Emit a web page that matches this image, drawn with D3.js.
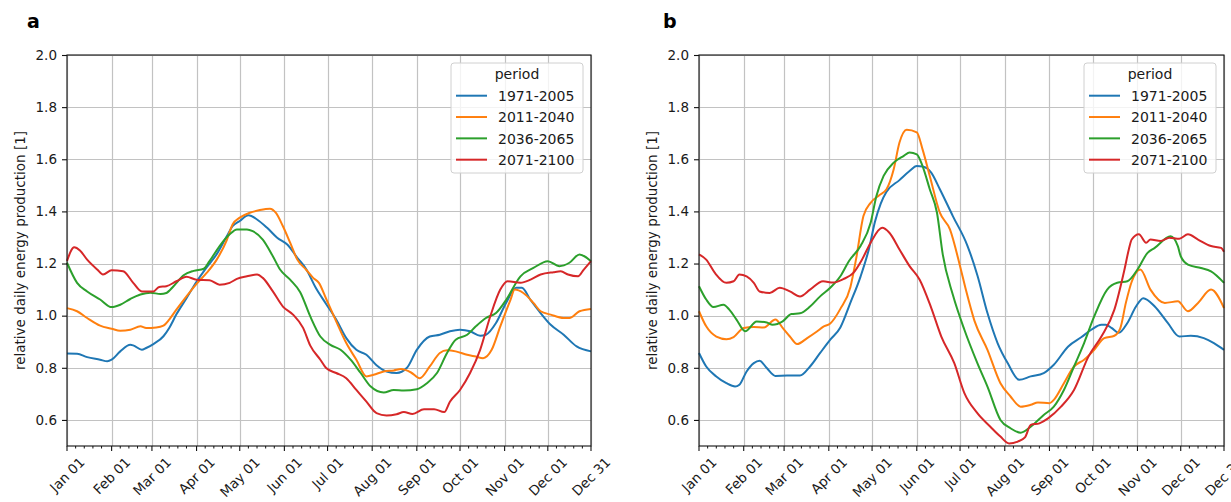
<!DOCTYPE html>
<html><head><meta charset="utf-8">
<script src="https://cdn.jsdelivr.net/npm/d3@7"></script>
<style>
body{margin:0;background:#fff;}
svg{display:block;font-family:"DejaVu Sans",sans-serif;}
</style>
</head><body>
<svg id="c" width="1231" height="502"></svg>
<script>
// ---------- data ----------
const periods = ["1971-2005","2011-2040","2036-2065","2071-2100"];
const colors = ["#1f77b4","#ff7f0e","#2ca02c","#d62728"];
const panelLabels = ["a","b"];
const yTicks = [0.6,0.8,1.0,1.2,1.4,1.6,1.8,2.0];
const yLabel = "relative daily energy production [1]";
const legendTitle = "period";

// [day of year (0 = Jan 01), value]
const a1971 = [[0,0.855],[7,0.854],[14,0.841],[23,0.831],[28,0.825],[31,0.831],[37,0.863],[44,0.888],[46,0.886],[52,0.869],[55,0.876],[60,0.891],[67,0.921],[71,0.953],[76,1.005],[83,1.067],[90,1.13],[97,1.185],[104,1.236],[111,1.305],[115,1.343],[120,1.363],[126,1.385],[132,1.369],[139,1.337],[146,1.299],[153,1.273],[160,1.222],[166,1.18],[173,1.105],[180,1.045],[187,0.985],[194,0.914],[201,0.869],[208,0.85],[215,0.81],[222,0.786],[229,0.78],[236,0.799],[243,0.869],[252,0.92],[259,0.927],[266,0.94],[273,0.946],[280,0.94],[287,0.923],[291,0.927],[298,0.972],[305,1.049],[312,1.107],[316,1.107],[322,1.06],[329,1.01],[336,0.965],[345,0.927],[354,0.882],[364,0.863]];
const a2011 = [[0,1.029],[7,1.017],[14,0.991],[23,0.962],[31,0.95],[37,0.942],[44,0.946],[51,0.959],[55,0.953],[62,0.955],[67,0.962],[71,0.985],[76,1.023],[83,1.074],[90,1.122],[97,1.164],[104,1.215],[111,1.29],[115,1.35],[120,1.376],[127,1.395],[134,1.405],[141,1.41],[145,1.395],[150,1.343],[155,1.28],[160,1.215],[166,1.177],[171,1.145],[175,1.126],[180,1.065],[187,0.978],[194,0.895],[201,0.831],[208,0.767],[213,0.773],[220,0.786],[227,0.79],[232,0.795],[239,0.782],[245,0.76],[252,0.805],[259,0.857],[264,0.867],[270,0.863],[278,0.85],[284,0.843],[289,0.837],[295,0.869],[301,0.959],[308,1.06],[311,1.1],[317,1.087],[324,1.049],[329,1.017],[336,1.004],[345,0.991],[349,0.991],[356,1.017],[364,1.026]];
const a2036 = [[0,1.203],[7,1.126],[14,1.093],[23,1.062],[31,1.033],[37,1.042],[44,1.064],[51,1.081],[58,1.088],[65,1.083],[69,1.087],[74,1.113],[81,1.155],[88,1.172],[95,1.18],[99,1.209],[106,1.267],[113,1.312],[118,1.331],[125,1.331],[129,1.324],[136,1.292],[143,1.228],[148,1.177],[155,1.138],[162,1.09],[169,0.997],[176,0.92],[183,0.888],[190,0.869],[197,0.831],[204,0.78],[211,0.728],[220,0.705],[227,0.715],[234,0.713],[243,0.718],[250,0.741],[257,0.78],[264,0.857],[270,0.908],[278,0.927],[284,0.959],[291,0.991],[298,1.01],[305,1.06],[315,1.151],[324,1.183],[334,1.209],[342,1.19],[349,1.203],[356,1.235],[364,1.209]];
const a2071 = [[0,1.21],[5,1.262],[9,1.25],[14,1.215],[21,1.177],[25,1.158],[31,1.174],[39,1.17],[46,1.126],[52,1.093],[60,1.093],[64,1.11],[69,1.113],[76,1.132],[83,1.149],[90,1.138],[99,1.136],[106,1.119],[113,1.126],[118,1.141],[125,1.151],[132,1.158],[136,1.145],[143,1.093],[150,1.035],[157,1.004],[164,0.953],[169,0.885],[176,0.831],[180,0.799],[187,0.78],[194,0.76],[201,0.715],[208,0.67],[215,0.626],[222,0.617],[229,0.622],[234,0.63],[240,0.623],[248,0.641],[255,0.641],[262,0.63],[266,0.67],[273,0.715],[280,0.78],[287,0.869],[294,0.997],[301,1.1],[306,1.132],[315,1.126],[322,1.138],[329,1.158],[338,1.167],[343,1.17],[348,1.158],[355,1.151],[359,1.177],[364,1.209]];

const b1971 = [[0,0.857],[5,0.805],[12,0.767],[19,0.741],[25,0.728],[28,0.735],[33,0.786],[38,0.818],[42,0.827],[47,0.799],[53,0.769],[61,0.77],[70,0.77],[77,0.805],[84,0.857],[91,0.908],[98,0.955],[105,1.05],[112,1.15],[118,1.26],[122,1.36],[126,1.43],[130,1.475],[139,1.52],[146,1.555],[151,1.574],[155,1.572],[161,1.549],[167,1.485],[176,1.382],[186,1.27],[193,1.155],[200,1.01],[207,0.895],[214,0.818],[222,0.754],[230,0.767],[239,0.78],[246,0.812],[256,0.882],[265,0.917],[272,0.946],[279,0.965],[282,0.965],[286,0.953],[291,0.934],[297,0.972],[303,1.035],[308,1.067],[316,1.035],[325,0.972],[333,0.92],[341,0.923],[350,0.914],[357,0.895],[364,0.869]];
const b2011 = [[0,1.017],[5,0.959],[12,0.92],[19,0.91],[24,0.918],[31,0.953],[38,0.957],[45,0.955],[53,0.985],[58,0.953],[63,0.92],[68,0.891],[75,0.914],[82,0.94],[86,0.957],[91,0.97],[98,1.026],[105,1.11],[109,1.22],[114,1.382],[119,1.433],[125,1.462],[130,1.485],[135,1.562],[139,1.664],[144,1.713],[151,1.703],[155,1.638],[160,1.536],[167,1.395],[174,1.331],[181,1.19],[185,1.1],[191,0.98],[200,0.869],[209,0.741],[216,0.69],[223,0.651],[230,0.658],[235,0.667],[243,0.664],[246,0.677],[253,0.741],[260,0.805],[267,0.831],[274,0.869],[281,0.914],[288,0.923],[292,0.95],[296,1.05],[300,1.13],[306,1.177],[313,1.1],[323,1.049],[332,1.055],[339,1.017],[346,1.049],[355,1.1],[364,1.029]];
const b2036 = [[0,1.113],[5,1.062],[10,1.033],[17,1.042],[21,1.023],[26,0.985],[32,0.94],[40,0.978],[47,0.974],[51,0.965],[58,0.978],[64,1.006],[70,1.009],[77,1.035],[84,1.074],[91,1.107],[98,1.151],[104,1.21],[112,1.267],[119,1.356],[123,1.459],[128,1.536],[135,1.587],[142,1.613],[146,1.626],[151,1.619],[155,1.574],[160,1.485],[165,1.395],[169,1.235],[176,1.08],[184,0.946],[193,0.818],[200,0.728],[209,0.6],[216,0.568],[223,0.551],[230,0.574],[239,0.619],[246,0.651],[253,0.715],[260,0.805],[267,0.895],[274,0.997],[283,1.1],[290,1.126],[297,1.132],[304,1.177],[311,1.241],[316,1.26],[327,1.305],[332,1.267],[334,1.228],[339,1.196],[348,1.183],[355,1.17],[364,1.126]];
const b2071 = [[0,1.235],[5,1.215],[11,1.164],[19,1.126],[24,1.132],[28,1.158],[33,1.151],[38,1.126],[42,1.093],[49,1.087],[56,1.107],[63,1.093],[70,1.074],[77,1.1],[86,1.132],[93,1.127],[100,1.14],[107,1.164],[113,1.215],[119,1.28],[127,1.337],[132,1.318],[139,1.254],[146,1.19],[153,1.138],[161,1.03],[168,0.92],[177,0.818],[184,0.703],[193,0.626],[202,0.574],[209,0.536],[215,0.51],[221,0.517],[226,0.533],[230,0.581],[236,0.587],[242,0.606],[251,0.651],[260,0.715],[270,0.843],[279,0.92],[288,1.023],[295,1.177],[298,1.254],[300,1.292],[305,1.312],[310,1.28],[313,1.292],[320,1.286],[326,1.299],[333,1.295],[339,1.312],[346,1.292],[355,1.267],[362,1.26],[364,1.245]];

const panelSeries = [[a1971,a2011,a2036,a2071],[b1971,b2011,b2036,b2071]];

// ---------- drawing ----------
const svg = d3.select("#c");
const panels = [{left:67,right:591,letterX:27},{left:699,right:1224,letterX:663}];
const plotTop = 55, plotBottom = 446;
const year = 2001;
const dayToDate = d => new Date(year,0,1+d);
const fmt = d3.timeFormat("%b %d");
const FS = 13.5;

panels.forEach((p,pi)=>{
  const g = svg.append("g");
  const x = d3.scaleTime().domain([dayToDate(0),dayToDate(364)]).range([p.left,p.right]);
  const y = d3.scaleLinear().domain([0.5,2.0]).range([plotBottom,plotTop]);
  const majors = d3.timeMonth.range(dayToDate(0), dayToDate(365)).concat([dayToDate(364)]);
  const minors = [];
  d3.timeMonth.range(dayToDate(0), dayToDate(365)).forEach(m=>{
    [7,13,19,25].forEach(dd=>minors.push(new Date(year,m.getMonth(),dd)));
  });

  // grid
  g.append("g").selectAll("line").data(majors).join("line")
    .attr("x1",d=>Math.round(x(d))+0.5).attr("x2",d=>Math.round(x(d))+0.5)
    .attr("y1",plotTop).attr("y2",plotBottom)
    .attr("stroke","#c2c2c2").attr("stroke-width",1.2);
  g.append("g").selectAll("line").data(yTicks).join("line")
    .attr("x1",p.left).attr("x2",p.right)
    .attr("y1",d=>Math.round(y(d))+0.5).attr("y2",d=>Math.round(y(d))+0.5)
    .attr("stroke","#c2c2c2").attr("stroke-width",1.2);

  // series
  const line = d3.line().x(d=>x(dayToDate(d[0]))).y(d=>y(d[1])).curve(d3.curveMonotoneX);
  panelSeries[pi].forEach((s,si)=>{
    g.append("path").datum(s).attr("d",line)
      .attr("fill","none").attr("stroke",colors[si]).attr("stroke-width",2)
      .attr("stroke-linejoin","round");
  });

  // frame
  g.append("rect").attr("x",p.left).attr("y",plotTop)
    .attr("width",p.right-p.left).attr("height",plotBottom-plotTop)
    .attr("fill","none").attr("stroke","#111").attr("stroke-width",1.1);

  // y axis
  const ya = g.append("g").attr("transform",`translate(${p.left},0)`)
    .call(d3.axisLeft(y).tickValues(yTicks).tickSize(5).tickPadding(5).tickFormat(d3.format(".1f")));
  ya.select(".domain").remove();
  ya.selectAll("line").attr("stroke","#111").attr("stroke-width",1.1);
  ya.selectAll("text").attr("font-size",FS).attr("fill","#1a1a1a").attr("font-family","DejaVu Sans");

  // x axis minor ticks
  g.append("g").selectAll("line").data(minors).join("line")
    .attr("x1",d=>x(d)).attr("x2",d=>x(d)).attr("y1",plotBottom).attr("y2",plotBottom+2.5)
    .attr("stroke","#111").attr("stroke-width",1);
  // x axis major ticks
  g.append("g").selectAll("line").data(majors).join("line")
    .attr("x1",d=>x(d)).attr("x2",d=>x(d)).attr("y1",plotBottom).attr("y2",plotBottom+5)
    .attr("stroke","#111").attr("stroke-width",1.1);
  // x tick labels, rotated 45°, bbox centred on tick
  const h = FS*1.17;
  g.append("g").selectAll("text").data(majors).join("text")
    .text(d=>fmt(d))
    .attr("font-size",FS).attr("fill","#1a1a1a")
    .attr("text-anchor","middle").attr("dominant-baseline","central")
    .each(function(d){
      const w = this.getComputedTextLength();
      const H = (w+h)/Math.SQRT2;
      d3.select(this).attr("transform",`translate(${x(d)},${454+H/2}) rotate(-45)`);
    });

  // y label
  g.append("text").text(yLabel)
    .attr("font-size",FS).attr("fill","#1a1a1a").attr("text-anchor","middle")
    .attr("transform",`translate(${p.left-47},${(plotTop+plotBottom)/2}) rotate(-90)`)
    .attr("dy","0.35em");

  // panel letter
  g.append("text").text(panelLabels[pi])
    .attr("x",p.letterX).attr("y",28)
    .attr("font-size",19).attr("font-weight","bold").attr("fill","#000");

  // legend
  const lw = 132, lh = 110, lx = p.right-8-lw, ly = 63;
  const lg = g.append("g");
  lg.append("rect").attr("x",lx).attr("y",ly).attr("width",lw).attr("height",lh)
    .attr("rx",3).attr("fill","#fff").attr("fill-opacity",0.8)
    .attr("stroke","#d0d0d0").attr("stroke-width",1);
  lg.append("text").text(legendTitle).attr("x",lx+lw/2).attr("y",79)
    .attr("text-anchor","middle").attr("font-size",14).attr("fill","#1a1a1a");
  periods.forEach((name,i)=>{
    const yy = 95.7 + i*21.33;
    lg.append("line").attr("x1",lx+5).attr("x2",lx+36).attr("y1",yy).attr("y2",yy)
      .attr("stroke",colors[i]).attr("stroke-width",2);
    lg.append("text").text(name).attr("x",lx+47).attr("y",yy).attr("dy","0.38em")
      .attr("font-size",14).attr("fill","#1a1a1a");
  });
});
</script>
</body></html>
